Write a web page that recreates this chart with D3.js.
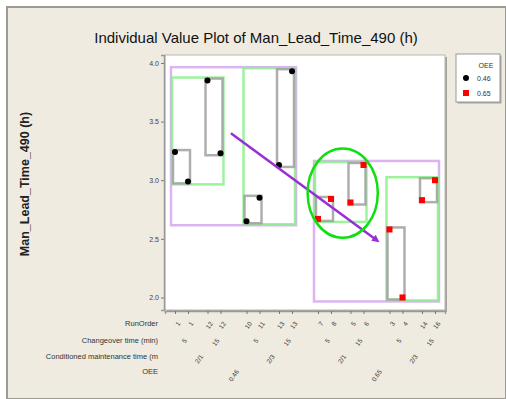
<!DOCTYPE html>
<html>
<head>
<meta charset="utf-8">
<script src="https://cdn.jsdelivr.net/npm/d3@7"></script>
<style>
  body { margin: 0; background: #fff; }
  text { font-family: "Liberation Sans", Arial, sans-serif; }
</style>
</head>
<body>
<div id="chart"></div>
<script>
// data
let runOrder = ["1", "1", "12", "12", "10", "11", "13", "13", "7", "8", "5", "6", "3", "4", "14", "16"];
let changeover = ["5", "15", "5", "15", "5", "15", "5", "15"];
let condMaint = ["2/1", "2/3", "2/1", "2/3"];
let oeeLevels = ["0.46", "0.65"];
let leadTime = [3.24, 2.99, 3.85, 3.23, 2.65, 2.85, 3.13, 3.93, 2.67, 2.84, 2.81, 3.13, 2.58, 2.00, 2.83, 3.00];
let yTicks = [2.0, 2.5, 3.0, 3.5, 4.0];

// annotation arrow and ellipse, in data units (slot, value)
let arrowFrom = [4.3, 3.40];
let arrowTo = [15.5, 2.49];
let ellipse = { cx: 12.9, cy: 2.89, rx: 2.7, ry: 0.38 };

let width = 506, height = 399;
let plot = { left: 165, right: 445, top: 55, bottom: 310 };

let svg = d3.select("#chart").append("svg")
    .attr("width", width)
    .attr("height", height);

// window background and frame
svg.append("rect").attr("x", 0).attr("y", 0).attr("width", width).attr("height", height).attr("fill", "#fff");
svg.append("rect")
    .attr("x", 7).attr("y", 7).attr("width", width - 7).attr("height", height - 7)
    .attr("fill", "#efebe1")
    .attr("stroke", "#9c9a94").attr("stroke-width", 2);

//title
svg.append("text")
    .attr("x", 256).attr("y", 43)
    .attr("text-anchor", "middle")
    .style("font-size", "15px")
    .attr("fill", "#111")
    .text("Individual Value Plot of Man_Lead_Time_490 (h)");

// slot of each point: gaps between changeover groups (0.5) and between larger groups (1)
let slots = [];
let s = 0;
leadTime.forEach(function(d, i) {
    if (i > 0 && i % 2 == 0) s += (i % 4 == 0) ? 1 : 0.5;
    slots.push(i + s);
});

let x = d3.scaleLinear()
    .domain([-0.77, 20.77])
    .range([plot.left, plot.right]);

let y = d3.scaleLinear()
    .domain([1.893, 4.068])
    .range([plot.bottom, plot.top]);

// plot frame
svg.append("rect")
    .attr("x", plot.left + 2).attr("y", plot.top + 2)
    .attr("width", plot.right - plot.left).attr("height", plot.bottom - plot.top)
    .attr("fill", "#a7a49c");
svg.append("rect")
    .attr("x", plot.left).attr("y", plot.top)
    .attr("width", plot.right - plot.left).attr("height", plot.bottom - plot.top)
    .attr("fill", "#fff")
    .attr("stroke", "#b8b6b0").attr("stroke-width", 1);

// y axis
let yAxis = svg.append("g")
    .attr("transform", `translate(${plot.left - 1},0)`)
    .call(d3.axisLeft(y).tickValues(yTicks).tickFormat(d3.format(".1f")).tickSize(3).tickPadding(2));
yAxis.select(".domain").attr("stroke", "#999").attr("stroke-width", 1.5);
yAxis.selectAll(".tick line").attr("stroke", "#777");
yAxis.selectAll("text").style("font-size", "7px").attr("fill", "#444");

// x ticks
let xAxis = svg.append("g")
    .attr("transform", `translate(0,${plot.bottom + 1})`)
    .call(d3.axisBottom(x).tickValues(slots).tickFormat("").tickSize(3));
xAxis.select(".domain").attr("stroke", "#999").attr("stroke-width", 1.5);
xAxis.selectAll(".tick line").attr("stroke", "#777");

// y label
svg.append("text")
    .attr("transform", `translate(29,184) rotate(-90)`)
    .attr("text-anchor", "middle")
    .style("font-size", "12.5px")
    .style("font-weight", "bold")
    .attr("fill", "#222")
    .text("Man_Lead_Time_490 (h)");

// group rectangles
function groupRect(from, to, color, pad) {
    let idx = d3.range(from, to);
    let vals = idx.map(i => leadTime[i]);
    let x0 = x(slots[from]) - pad, x1 = x(slots[to - 1]) + pad;
    let y0 = y(d3.max(vals)) - pad, y1 = y(d3.min(vals)) + pad;
    svg.append("rect")
        .attr("x", x0).attr("y", y0)
        .attr("width", x1 - x0).attr("height", y1 - y0)
        .attr("fill", "none")
        .attr("stroke", color)
        .attr("stroke-width", 2.5)
        .attr("stroke-opacity", 0.85);
}

// OEE groups
for (let g = 0; g < 2; g++) groupRect(g * 8, g * 8 + 8, "#d4a8ee", 4);
// conditioned maintenance groups
for (let g = 0; g < 4; g++) groupRect(g * 4, g * 4 + 4, "#8cf08c", 3);
// changeover groups
for (let g = 0; g < 8; g++) groupRect(g * 2, g * 2 + 2, "#a0a0a0", 2);

// points
let oeeOf = leadTime.map((d, i) => i < 8 ? 0 : 1);
leadTime.forEach(function(d, i) {
    if (oeeOf[i] == 0) {
        svg.append("circle")
            .attr("cx", x(slots[i])).attr("cy", y(d)).attr("r", 3)
            .attr("fill", "#000");
    } else {
        svg.append("rect")
            .attr("x", x(slots[i]) - 3).attr("y", y(d) - 3)
            .attr("width", 6).attr("height", 6)
            .attr("fill", "#ff0000");
    }
});

// arrow annotation
svg.append("defs").append("marker")
    .attr("id", "head")
    .attr("viewBox", "0 0 10 10")
    .attr("refX", 5).attr("refY", 5)
    .attr("markerWidth", 3).attr("markerHeight", 3)
    .attr("orient", "auto")
    .append("path")
    .attr("d", "M0,0 L10,5 L0,10 Z")
    .attr("fill", "#9a2ed6");

svg.append("line")
    .attr("x1", x(arrowFrom[0])).attr("y1", y(arrowFrom[1]))
    .attr("x2", x(arrowTo[0])).attr("y2", y(arrowTo[1]))
    .attr("stroke", "#9a2ed6")
    .attr("stroke-width", 2.5)
    .attr("marker-end", "url(#head)");

// ellipse annotation
svg.append("ellipse")
    .attr("cx", x(ellipse.cx)).attr("cy", y(ellipse.cy))
    .attr("rx", x(ellipse.rx) - x(0)).attr("ry", y(0) - y(ellipse.ry))
    .attr("fill", "none")
    .attr("stroke", "#10e010")
    .attr("stroke-width", 2.5);

// category rows below axis
let rows = ["RunOrder", "Changeover time (min)", "Conditioned maintenance time (m", "OEE"];
let rowY = [324, 341, 357, 372];
rows.forEach(function(r, i) {
    svg.append("text")
        .attr("x", 158).attr("y", rowY[i] + 2)
        .attr("text-anchor", "end")
        .style("font-size", "7.5px")
        .attr("fill", "#333")
        .text(r);
});

function levelLabels(labels, size, row) {
    labels.forEach(function(lab, j) {
        let cx = (x(slots[j * size]) + x(slots[j * size + size - 1])) / 2;
        svg.append("text")
            .attr("transform", `translate(${cx + 2},${rowY[row] - 3}) rotate(-55)`)
            .attr("text-anchor", "end")
            .attr("dy", "0.7em")
            .style("font-size", "6.5px")
            .attr("fill", "#333")
            .text(lab);
    });
}
levelLabels(runOrder, 1, 0);
levelLabels(changeover, 2, 1);
levelLabels(condMaint, 4, 2);
levelLabels(oeeLevels, 8, 3);

// legend
let lg = svg.append("g").attr("transform", "translate(456,54)");
lg.append("rect").attr("x", 1.5).attr("y", 1.5).attr("width", 44).attr("height", 48).attr("fill", "#a7a49c");
lg.append("rect").attr("width", 44).attr("height", 48)
    .attr("fill", "#fff").attr("stroke", "#999").attr("stroke-width", 1);
lg.append("text").attr("x", 30).attr("y", 14).attr("text-anchor", "middle")
    .style("font-size", "7px").attr("fill", "#333").text("OEE");
lg.append("circle").attr("cx", 10).attr("cy", 24).attr("r", 3).attr("fill", "#000");
lg.append("rect").attr("x", 7).attr("y", 36).attr("width", 6).attr("height", 6).attr("fill", "#ff0000");
lg.append("text").attr("x", 21).attr("y", 27).style("font-size", "7px").attr("fill", "#333").text(oeeLevels[0]);
lg.append("text").attr("x", 21).attr("y", 42).style("font-size", "7px").attr("fill", "#333").text(oeeLevels[1]);
</script>
</body>
</html>
